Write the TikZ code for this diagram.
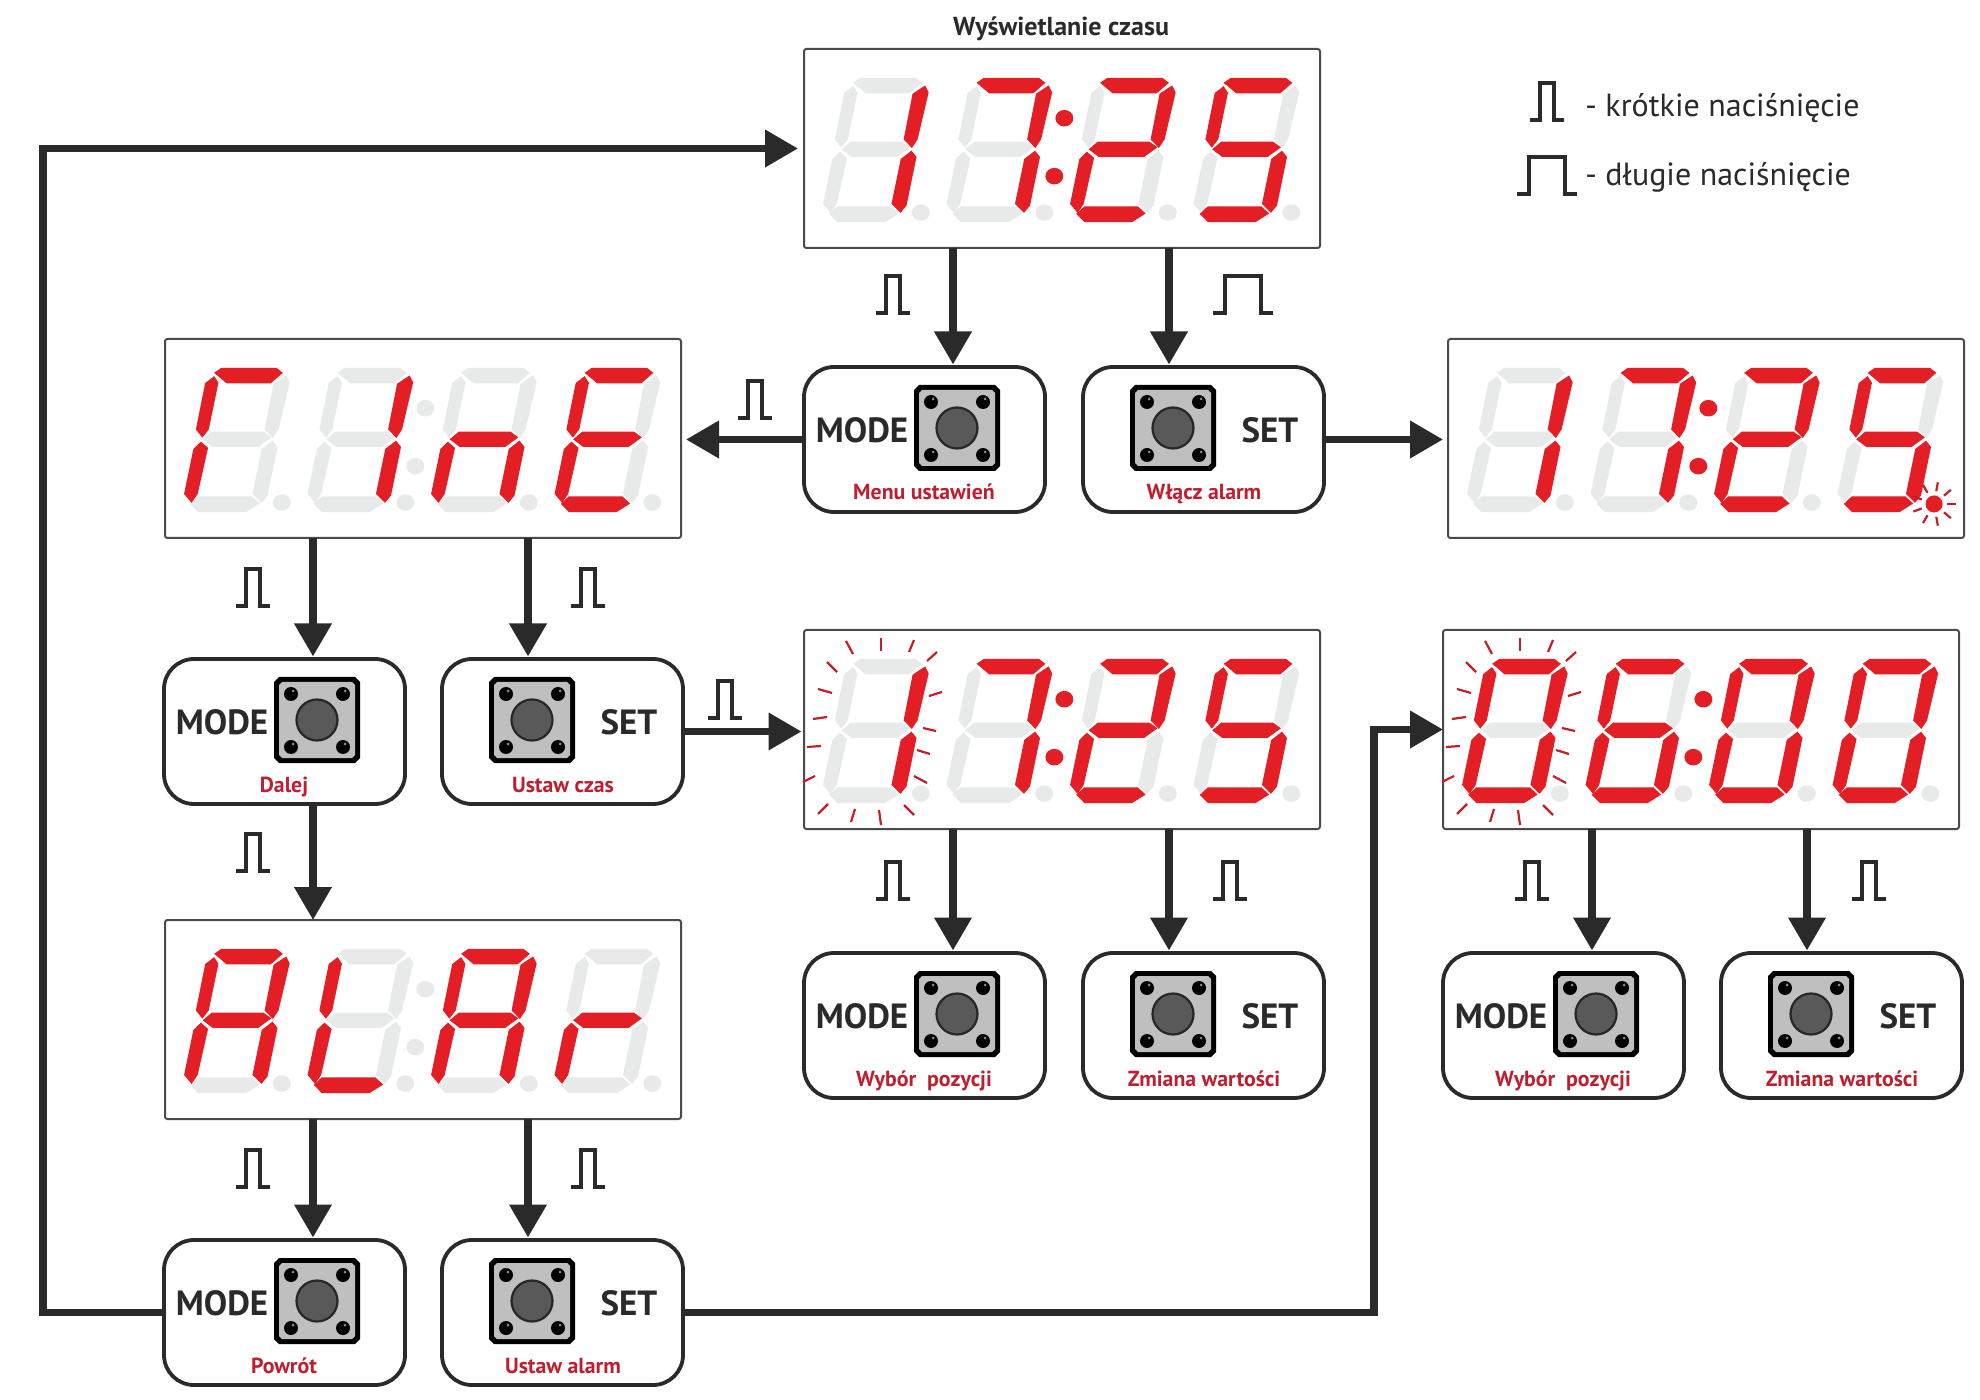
\documentclass[tikz,border=0pt]{standalone}
\usepackage{fontspec}
\usepackage{xcolor}
\usetikzlibrary{arrows.meta}
\setmainfont{PT Sans}

\definecolor{segred}{HTML}{E31E24}
\definecolor{seggrey}{HTML}{E8E9E9}
\definecolor{labelred}{HTML}{BE1E2D}
\definecolor{darkline}{HTML}{2B2A2B}

\tikzset{
  segon/.style={fill=segred},
  segoff/.style={fill=seggrey},
  panel/.style={draw=darkline!85, line width=1pt, rounded corners=1.2pt, anchor=north west, minimum width=258pt, minimum height=99.5pt, inner sep=0pt, outer sep=0pt},
  btnbox/.style={draw=darkline, line width=1.9pt, rounded corners=15pt, anchor=north west, minimum width=120.5pt, minimum height=72.5pt, inner sep=0pt, outer sep=0pt},
  btntext/.style={text=darkline, font=\fontsize{17.5}{19}\selectfont\bfseries, inner sep=0pt},
  btnlabel/.style={text=labelred, font=\fontsize{10.9}{12}\selectfont\bfseries, inner sep=0pt, anchor=base},
  legtext/.style={text=darkline, font=\fontsize{16}{18}\selectfont, inner sep=0pt, anchor=west},
  arrowline/.style={draw=darkline, line width=3.6pt, -{Triangle[length=16.5pt,width=18pt]}, shorten >=1.25pt},
  pulseline/.style={draw=darkline, line width=1.7pt, miter limit=10},
  rayline/.style={draw=labelred!80!segred, line width=1.1pt}
}

% segments of one digit, a to g
\def\segpi{(80,13) -- (100,-2) -- (254,-2) -- (272,13) -- (238,45) -- (115,45) -- cycle}
\def\segpii{(281,21) -- (291,42) -- (260,184) -- (244,210) -- (221,184) -- (246,46) -- cycle}
\def\segpiii{(243,218) -- (257,237) -- (229,384) -- (212,406) -- (187,379) -- (213,243) -- cycle}
\def\segpiv{(13,409) -- (36,386) -- (185,386) -- (207,408) -- (169,434) -- (36,434) -- cycle}
\def\segpv{(43,221) -- (63,240) -- (34,379) -- (17,406) -- (-4,379) -- (22,243) -- cycle}
\def\segpvi{(80,23) -- (92,43) -- (65,184) -- (47,209) -- (29,184) -- (55,44) -- cycle}
\def\segpvii{(48,214) -- (73,191) -- (218,191) -- (240,208) -- (203,237) -- (76,237) -- cycle}

% characters
\def\chone{segoff,segon,segon,segoff,segoff,segoff,segoff}
\def\chtwo{segon,segon,segoff,segon,segon,segoff,segon}
\def\chfive{segon,segoff,segon,segon,segoff,segon,segon}
\def\chsix{segon,segoff,segon,segon,segon,segon,segon}
\def\chseven{segon,segon,segon,segoff,segoff,segoff,segoff}
\def\chzero{segon,segon,segon,segon,segon,segon,segoff}
\def\chF{segon,segoff,segoff,segoff,segon,segon,segoff}
\def\chn{segoff,segoff,segon,segoff,segon,segoff,segon}
\def\chE{segon,segoff,segoff,segon,segon,segon,segon}
\def\chA{segon,segon,segon,segoff,segon,segon,segon}
\def\chL{segoff,segoff,segoff,segon,segon,segon,segoff}
\def\chr{segoff,segoff,segoff,segoff,segon,segoff,segon}

\newcommand{\onedigit}[2]{
  \begin{scope}[xshift=#1*61.75pt]
    \foreach \c [count=\i] in #2 {
      \expandafter\let\expandafter\segnow\csname segp\romannumeral\i\endcsname
      \fill[\c] \segnow;
    }
    \fill[seggrey] (269,405) circle (25);
  \end{scope}
}

% name, x, y, four characters, colon style
\newcommand{\display}[8]{
  \node[panel] (#1) at (#2+1,#3+1) {};
  \begin{scope}[shift={(#2+21.5,#3+30.5)}, x=.179pt, y=-.1655pt]
    \onedigit{0}{#4}
    \onedigit{1}{#5}
    \onedigit{2}{#6}
    \onedigit{3}{#7}
    \fill[#8] (670,120) circle (25);
    \fill[#8] (642,295) circle (25);
  \end{scope}
}

% switch drawn round its centre
\newcommand{\tactswitch}[2]{
  \begin{scope}[shift={(#1,#2)}]
    \fill[black] (-38,-43) -- (38,-43) -- (43,-38) -- (43,38) -- (38,43) -- (-38,43) -- (-43,38) -- (-43,-38) -- cycle;
    \fill[black!25] (-35,-38) -- (35,-38) -- (38,-35) -- (38,35) -- (35,38) -- (-35,38) -- (-38,35) -- (-38,-35) -- cycle;
    \foreach \px/\py in {-26/-26,26/-26,-26/27,26/27} {
      \fill[black] (\px,\py) circle (7);
      \fill[black!45] (\px+2,\py-3) circle (1.5);
    }
    \filldraw[draw=black!85, fill=black!65, line width=1.1pt] (0,0) circle (20.5);
  \end{scope}
}

% name, x, y, label
\newcommand{\modebutton}[4]{
  \node[btnbox] (#1) at (#2+1,#3+1) {};
  \tactswitch{#2+154}{#3+62}
  \node[btntext] (#1txt) at (#2+59,#3+64) {MODE};
  \node[btnlabel] (#1lab) at (#2+121,#3+134) {#4};
  \coordinate (#1in) at (#2+150,#3+1);
}
\newcommand{\setbutton}[4]{
  \node[btnbox] (#1) at (#2+1,#3+1) {};
  \tactswitch{#2+91}{#3+62}
  \node[btntext] (#1txt) at (#2+188,#3+64) {SET};
  \node[btnlabel] (#1lab) at (#2+122,#3+134) {#4};
  \coordinate (#1in) at (#2+87,#3+1);
}

% pulses, x centre and base
\newcommand{\shortpulse}[2]{
  \draw[pulseline] (#1-17,#2) -- ++(10,0) -- ++(0,-37) -- ++(14,0) -- ++(0,37) -- ++(10,0);
}
\newcommand{\longpulse}[2]{
  \draw[pulseline] (#1-30,#2) -- ++(12,0) -- ++(0,-37) -- ++(36,0) -- ++(0,37) -- ++(12,0);
}

% rays round the first digit
\newcommand{\blink}[2]{
  \begin{scope}[shift={(#1,#2)}]
    \foreach \ax/\ay/\bx/\by in {43/12/50/25,78/9/78/22,111/11/106/23,134/23/124/32,139/63/126/67,133/102/120/99,127/125/114/121,124/154/111/147,111/186/101/176,78/196/76/181,48/193/52/180,15/185/25/175,0/153/12/147,4/118/18/117,10/90/24/88,15/60/29/64,24/33/34/43}
      \draw[rayline] (\ax,\ay) -- (\bx,\by);
  \end{scope}
}

\begin{document}
\begin{tikzpicture}[x=.5pt, y=-.5pt]
  \useasboundingbox (0,0) rectangle (1980,1400);
  \fill[white] (0,0) rectangle (1980,1400);

  % displays
  \display{clock}{803}{48}{\chone}{\chseven}{\chtwo}{\chfive}{segon}
  \display{time}{164}{338}{\chF}{\chone}{\chn}{\chE}{segoff}
  \display{alarmon}{1447}{338}{\chone}{\chseven}{\chtwo}{\chfive}{segon}
  \display{settime}{803}{629}{\chone}{\chseven}{\chtwo}{\chfive}{segon}
  \display{setalarm}{1442}{629}{\chzero}{\chsix}{\chzero}{\chzero}{segon}
  \display{alar}{164}{919}{\chA}{\chL}{\chA}{\chr}{segoff}
  \blink{803}{629}
  \blink{1442}{629}

  % alarm sign
  \fill[segred] (1934,504) circle (8.5);
  \foreach \ang in {0,40,...,320}
    \draw[rayline] (1934,504) ++(\ang:13) -- ++(\ang:9);

  \node[text=darkline, font=\fontsize{13}{15}\selectfont\bfseries, inner sep=0pt] (title) at (1061,29) {Wyświetlanie czasu};

  % legend
  \shortpulse{1547}{120}
  \longpulse{1547}{194}
  \node[legtext] (shortleg) at (1585,108) {- krótkie naciśnięcie};
  \node[legtext] (longleg) at (1585,177) {- długie naciśnięcie};

  % buttons
  \modebutton{menu}{803}{366}{Menu ustawień}
  \setbutton{alarm}{1082}{366}{Włącz alarm}
  \modebutton{next}{163}{658}{Dalej}
  \setbutton{clockset}{441}{658}{Ustaw czas}
  \modebutton{pos}{803}{952}{Wybór\ \ pozycji}
  \setbutton{val}{1082}{952}{Zmiana wartości}
  \modebutton{posb}{1442}{952}{Wybór\ \ pozycji}
  \setbutton{valb}{1720}{952}{Zmiana wartości}
  \modebutton{back}{163}{1239}{Powrót}
  \setbutton{alarmset}{441}{1239}{Ustaw alarm}

  % arrows
  \draw[arrowline] (clock.south -| menuin) -- (menuin);
  \draw[arrowline] (clock.south -| alarmin) -- (alarmin);
  \draw[arrowline, shorten >=2.5pt] (menu.west) -- (menu.west -| time.east);
  \draw[arrowline, shorten >=2.5pt] (alarm.east) -- (alarm.east -| alarmon.west);
  \draw[arrowline] (time.south -| nextin) -- (nextin);
  \draw[arrowline] (time.south -| clocksetin) -- (clocksetin);
  \draw[arrowline, shorten >=0pt] (next.south -| nextin) -- (alar.north -| nextin);
  \draw[arrowline] (clockset.east) -- (clockset.east -| settime.west);
  \draw[arrowline] (settime.south -| posin) -- (posin);
  \draw[arrowline] (settime.south -| valin) -- (valin);
  \draw[arrowline] (setalarm.south -| posbin) -- (posbin);
  \draw[arrowline] (setalarm.south -| valbin) -- (valbin);
  \draw[arrowline] (alar.south -| backin) -- (backin);
  \draw[arrowline] (alar.south -| alarmsetin) -- (alarmsetin);

  % return lines
  \coordinate (backcorner) at (43,1312);
  \coordinate (setcorner) at (1374,1312);
  \draw[arrowline, shorten >=3pt] (back.west) -- (backcorner |- back.west) -- (backcorner |- clock.west) -- (clock.west);
  \draw[arrowline, shorten >=0pt] (alarmset.east) -- (setcorner |- alarmset.east) -- (setcorner |- setalarm.west) -- (setalarm.west);

  % pulses at the arrows
  \shortpulse{893}{313}
  \longpulse{1243}{313}
  \shortpulse{755}{418}
  \shortpulse{253}{606}
  \shortpulse{588}{606}
  \shortpulse{725}{718}
  \shortpulse{253}{871}
  \shortpulse{893}{899}
  \shortpulse{1230}{899}
  \shortpulse{1532}{899}
  \shortpulse{1869}{899}
  \shortpulse{253}{1187}
  \shortpulse{588}{1187}
\end{tikzpicture}
\end{document}
